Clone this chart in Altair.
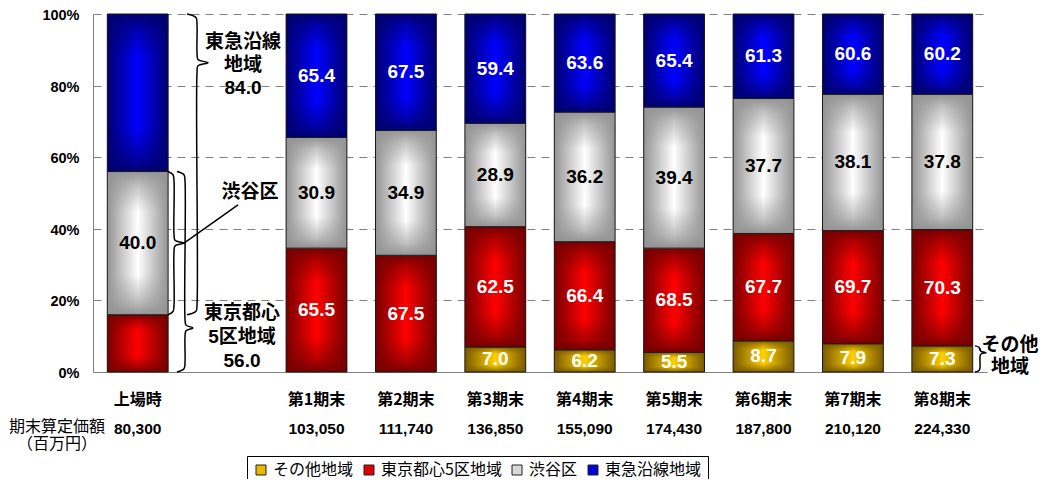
import altair as alt
import pandas as pd

# ---------------- data ----------------
categories = ["上場時", " ", "第1期末", "第2期末", "第3期末", "第4期末",
              "第5期末", "第6期末", "第7期末", "第8期末"]
bar_categories = ["上場時", "第1期末", "第2期末", "第3期末", "第4期末",
                  "第5期末", "第6期末", "第7期末", "第8期末"]
series_names = ["その他地域", "東京都心5区地域", "渋谷区", "東急沿線地域"]

# segment heights (% of portfolio), bottom to top
share_other = [0.0, 0.0, 0.0, 7.0, 6.2, 5.5, 8.7, 7.9, 7.3]
share_central5 = [16.0, 34.6, 32.6, 33.6, 30.2, 29.1, 30.0, 31.6, 32.5]
share_shibuya = [40.0, 30.9, 34.9, 28.9, 36.2, 39.4, 37.7, 38.1, 37.8]
share_tokyu = [44.0, 34.5, 32.5, 30.5, 27.4, 26.0, 23.6, 22.4, 22.4]

# labels printed inside the segments
label_other = ["", "", "", "7.0", "6.2", "5.5", "8.7", "7.9", "7.3"]
label_central5 = ["", "65.5", "67.5", "62.5", "66.4", "68.5", "67.7", "69.7", "70.3"]
label_shibuya = ["40.0", "30.9", "34.9", "28.9", "36.2", "39.4", "37.7", "38.1", "37.8"]
label_tokyu = ["", "65.4", "67.5", "59.4", "63.6", "65.4", "61.3", "60.6", "60.2"]

valuations = ["80,300", "103,050", "111,740", "136,850", "155,090",
              "174,430", "187,800", "210,120", "224,330"]

ipo_tokyu_area = "84.0"
ipo_central5_area = "56.0"

# ---------------- styling ----------------
CJK = "'Noto Sans CJK JP'"
NUM = "'Liberation Sans', 'Noto Sans CJK JP'"
palette = {
    "その他地域": ("#7A5A00", "#FFD000", "#E8B800"),
    "東京都心5区地域": ("#780000", "#FF0000", "#E00000"),
    "渋谷区": ("#949494", "#FFFFFF", "#D8D8D8"),
    "東急沿線地域": ("#000070", "#0000FF", "#0000D8"),
}


def rgba(h, a):
    return f"rgba({int(h[1:3],16)},{int(h[3:5],16)},{int(h[5:7],16)},{a})"


def hgrad(dark, bright):
    return alt.LinearGradient(
        gradient="linear", x1=0, x2=1, y1=0, y2=0,
        stops=[alt.GradientStop(color=dark, offset=0),
               alt.GradientStop(color=bright, offset=0.5),
               alt.GradientStop(color=dark, offset=1)])


def vgrad(dark):
    stops = [(0, 1.0), (0.1, 0.55), (0.28, 0.0), (0.72, 0.0), (0.9, 0.55), (1, 1.0)]
    return alt.LinearGradient(
        gradient="linear", x1=0, x2=0, y1=0, y2=1,
        stops=[alt.GradientStop(color=rgba(dark, a), offset=o) for o, a in stops])


# ---------------- tables ----------------
rows = []
shares = [share_other, share_central5, share_shibuya, share_tokyu]
labels = [label_other, label_central5, label_shibuya, label_tokyu]
for i, cat in enumerate(bar_categories):
    cum = 0.0
    for s, vals, labs in zip(series_names, shares, labels):
        v = vals[i]
        if v > 0:
            rows.append({"cat": cat, "series": s, "start": cum, "end": cum + v,
                         "mid": cum + v / 2, "label": labs[i]})
        cum += v
seg = pd.DataFrame(rows)

val_df = pd.DataFrame({"cat": bar_categories, "valuation": valuations})

# braces next to the first bar and the last bar
ipo_top = share_other[0] + share_central5[0] + share_shibuya[0] + share_tokyu[0]
ipo_red = share_other[0] + share_central5[0]
ipo_gray = ipo_red + share_shibuya[0]
last_other = share_other[-1]


def brace(bid, xh, xl, xt, top, bot, tip, d):
    pts = [(xh, top), (xl - 1, top - 0.45 * d), (xl, top - 1.3 * d),
           (xl, tip + 1.3 * d), (xl + 1, tip + 0.4 * d), (xt, tip),
           (xl + 1, tip - 0.4 * d), (xl, tip - 1.3 * d),
           (xl, bot + 1.3 * d), (xl - 1, bot + 0.45 * d), (xh, bot)]
    return [{"bid": bid, "i": k, "px": p[0], "pct": p[1]} for k, p in enumerate(pts)]


br = []
br += brace("A", 94, 104, 115, ipo_top, ipo_red, 86.4, 2.2)
br += brace("B", 75, 81, 91, ipo_gray, ipo_red, 36.0, 2.0)
br += brace("C", 84, 92, 100, ipo_gray, 0, 12.3, 2.0)
br += brace("D", 882, 887, 893, last_other, 0, 5.4, 0.9)
br += [{"bid": "L", "i": 0, "px": 91, "pct": 36.0},
       {"bid": "L", "i": 1, "px": 145, "pct": 46.7}]
brace_df = pd.DataFrame(br)

# ---------------- encodings ----------------
x_scale = alt.Scale(domain=categories, paddingInner=0.32, paddingOuter=0.16)
y_scale = alt.Scale(domain=[0, 100], nice=False, zero=True)

x_axis = alt.Axis(labelAngle=0, ticks=False, grid=False, domainColor="#808080",
                  labelFont=CJK, labelFontSize=16, labelFontWeight="bold",
                  labelColor="black", labelPadding=27, labelBaseline="middle")
y_axis = alt.Axis(values=[0, 20, 40, 60, 80, 100], labelExpr="datum.value + '%'",
                  ticks=False, labelPadding=14, labelOffset=1.5,
                  domainColor="#808080",
                  labelFont=NUM, labelFontSize=14.5, labelFontWeight="bold",
                  labelColor="black", grid=True, gridDash=[8, 6],
                  gridColor="#808080", gridWidth=1)

base = alt.Chart(seg).mark_bar(strokeWidth=0).encode(
    x=alt.X("cat:N", scale=x_scale, axis=x_axis, title=None),
    y=alt.Y("start:Q", scale=y_scale, axis=y_axis, title=None),
    y2="end:Q",
    color=alt.Color("series:N",
                    scale=alt.Scale(domain=series_names,
                                    range=[palette[s][2] for s in series_names]),
                    legend=alt.Legend(orient="none", legendX=154, legendY=442,
                                      direction="horizontal", columns=4, title=None,
                                      symbolType="square", symbolSize=100,
                                      symbolStrokeColor="#222", symbolStrokeWidth=1,
                                      symbolOpacity=1,
                                      labelFont=CJK, labelFontSize=16,
                                      labelColor="black", labelOffset=4,
                                      columnPadding=7, padding=6,
                                      strokeColor="#000", fillColor="white")),
)

layers = [base]
for s in series_names:
    dark, bright, _ = palette[s]
    sub = alt.Chart(seg).transform_filter(alt.datum.series == s)
    enc = dict(x=alt.X("cat:N", scale=x_scale, title=None),
               y=alt.Y("start:Q", scale=y_scale, title=None), y2="end:Q")
    layers.append(sub.mark_bar(fill=hgrad(dark, bright), strokeWidth=0).encode(**enc))
    layers.append(sub.mark_bar(fill=vgrad(dark), stroke="#1a1a1a",
                               strokeWidth=1).encode(**enc))

txt_enc = dict(x=alt.X("cat:N", scale=x_scale, title=None),
               y=alt.Y("mid:Q", scale=y_scale, title=None),
               text="label:N")
white_txt = alt.Chart(seg).transform_filter(
    (alt.datum.series != "渋谷区") & (alt.datum.label != "")
).mark_text(font=NUM, fontSize=19, fontWeight="bold", color="white",
            baseline="middle").encode(**txt_enc)
black_txt = alt.Chart(seg).transform_filter(
    alt.datum.series == "渋谷区"
).mark_text(font=NUM, fontSize=19, fontWeight="bold", color="black",
            baseline="middle").encode(**txt_enc)
layers += [white_txt, black_txt]

val_txt = alt.Chart(val_df).mark_text(
    font=NUM, fontSize=15.5, fontWeight="bold", color="black", baseline="middle"
).encode(x=alt.X("cat:N", scale=x_scale, title=None), y=alt.value(415),
         text="valuation:N")
layers.append(val_txt)

brace_layer = alt.Chart(brace_df).mark_line(
    color="black", strokeWidth=1.5, interpolate="catmull-rom"
).encode(
    x=alt.X("px:Q", scale=None, axis=None),
    y=alt.Y("pct:Q", scale=y_scale, title=None),
    detail="bid:N",
    order="i:Q",
)
layers.append(brace_layer)


def note(text, x, y, lh, size=19, weight="bold"):
    return alt.Chart(pd.DataFrame({"t": [text]})).mark_text(
        font=NUM, fontSize=size, fontWeight=weight, color="black",
        lineBreak="\n", lineHeight=lh, align="center", baseline="middle"
    ).encode(x=alt.value(x), y=alt.value(y), text="t:N")


layers += [
    note("東急沿線\n地域\n" + ipo_tokyu_area, 150, 28, 23),
    note("渋谷区", 157, 178, 23),
    note("東京都心\n5区地域\n" + ipo_central5_area, 149, 299, 24),
    note("その他\n地域", 917, 331, 22),
    note("期末算定価額\n（百万円）", -36, 413, 17, size=16, weight="normal"),
]

chart = alt.layer(*layers).properties(
    width=894, height=358,
    autosize=alt.AutoSizeParams(type="none"),
    padding={"left": 85, "top": 6, "right": 55, "bottom": 107},
).configure_view(stroke=None)

chart.save("out.html", embed_options={"renderer": "svg", "actions": False})
